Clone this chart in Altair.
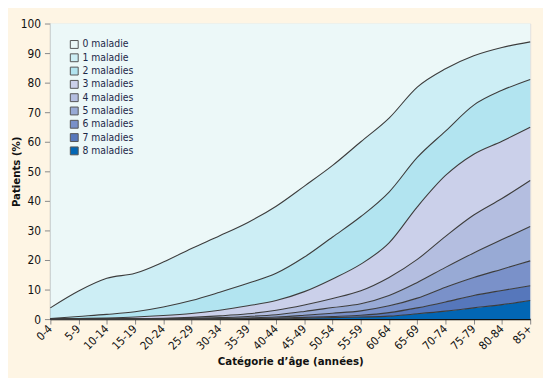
import altair as alt
import pandas as pd

cats = ["0-4", "5-9", "10-14", "15-19", "20-24", "25-29", "30-34", "35-39", "40-44",
        "45-49", "50-54", "55-59", "60-64", "65-69", "70-74", "75-79", "80-84", "85+"]

# cumulative share of patients with at least k diseases (%)
ge1 = [3.8, 9.5, 13.8, 15.5, 19.3, 23.9, 28.2, 32.7, 38.2, 45.0, 52.0, 60.0, 68.0, 78.5, 84.7, 89.1, 91.9, 93.8]
ge2 = [0.2, 0.9, 1.6, 2.5, 4.1, 6.3, 9.1, 12.1, 15.5, 21.0, 27.8, 34.7, 43.0, 54.7, 63.6, 72.4, 77.4, 81.1]
ge3 = [0.0, 0.2, 0.4, 0.7, 1.2, 1.9, 3.0, 4.5, 6.3, 9.3, 13.6, 18.6, 25.8, 38.0, 48.6, 55.8, 60.2, 64.9]
ge4 = [0.0, 0.1, 0.1, 0.2, 0.3, 0.6, 1.1, 1.8, 3.0, 4.8, 7.0, 9.6, 14.1, 20.2, 28.0, 35.2, 40.8, 46.9]
ge5 = [0.0, 0.0, 0.0, 0.1, 0.1, 0.3, 0.5, 0.9, 1.5, 2.6, 3.9, 5.2, 8.0, 12.4, 17.5, 22.4, 26.9, 31.3]
ge6 = [0.0, 0.0, 0.0, 0.0, 0.0, 0.1, 0.2, 0.4, 0.7, 1.3, 2.0, 2.8, 4.5, 7.1, 10.8, 14.1, 16.9, 19.7]
ge7 = [0.0, 0.0, 0.0, 0.0, 0.0, 0.0, 0.1, 0.2, 0.3, 0.6, 0.9, 1.3, 2.2, 3.8, 5.8, 8.0, 9.7, 11.3]
ge8 = [0.0, 0.0, 0.0, 0.0, 0.0, 0.0, 0.0, 0.1, 0.1, 0.3, 0.5, 0.7, 1.0, 1.8, 2.7, 3.8, 4.9, 6.3]

bands = ["0 maladie", "1 maladie", "2 maladies", "3 maladies", "4 maladies",
         "5 maladies", "6 maladies", "7 maladies", "8 maladies"]
colors = ["#ecf8f8", "#cdeef5", "#b2e4f0", "#cbd0ea", "#b4bee0",
          "#98aad5", "#7a91c9", "#5677bb", "#0266b4"]
yticks = [0, 10, 20, 30, 40, 50, 60, 70, 80, 90, 100]

cum = [[100.0] * len(cats), ge1, ge2, ge3, ge4, ge5, ge6, ge7, ge8, [0.0] * len(cats)]

rows = []
for k, name in enumerate(bands):
    for i, c in enumerate(cats):
        rows.append({"cat": c, "band": name, "order": k, "hi": cum[k][i], "lo": cum[k + 1][i]})
area_df = pd.DataFrame(rows)

lrows = []
for k in range(1, 9):
    for i, c in enumerate(cats):
        lrows.append({"cat": c, "k": k, "v": cum[k][i]})
line_df = pd.DataFrame(lrows)

FONT = "DejaVu Sans Condensed, Lato, sans-serif"

xaxis = alt.Axis(title="Catégorie d’âge (années)", labelAngle=315, labelAlign="right",
                 labelBaseline="middle", labelPadding=3, labelFontSize=11.5,
                 labelColor="#111111", tickColor="#888888", tickSize=5,
                 domainColor="#111111", domainWidth=1.5, titleFontSize=11.5,
                 titleFontWeight="bold", titleColor="#111111", titlePadding=4,
                 labelOverlap=False)
yaxis = alt.Axis(title="Patients (%)", values=yticks, labelFontSize=12,
                 labelColor="#111111", tickColor="#888888", tickSize=6,
                 domainColor="#999999", domainWidth=2, grid=False, labelPadding=4,
                 labelOverlap=False, labelFlush=False,
                 titleFontSize=11.5, titleFontWeight="bold", titleColor="#111111",
                 titleX=-34, titleY=150, titleAlign="center", titleBaseline="middle",
                 titleAngle=270)
xscale = alt.Scale(type="point", padding=0)
yscale = alt.Scale(domain=[0, 100], nice=False)

areas = alt.Chart(area_df).mark_area(interpolate="monotone").encode(
    x=alt.X("cat:O", sort=cats, scale=xscale, axis=xaxis),
    y=alt.Y("hi:Q", scale=yscale, axis=yaxis),
    y2="lo:Q",
    color=alt.Color("band:N", scale=alt.Scale(domain=bands, range=colors),
                    legend=alt.Legend(title=None, orient="none", legendX=19, legendY=16,
                                      symbolType="square", symbolSize=64, symbolStrokeColor="#555555",
                                      symbolStrokeWidth=1, labelFontSize=10.5, labelColor="#1c2848",
                                      labelFont=FONT, rowPadding=0.5, labelOffset=3,
                                      symbolOpacity=1)),
    order=alt.Order("order:Q"),
)

lines = alt.Chart(line_df).mark_line(interpolate="monotone", color="#3c3c3c", strokeWidth=1.1).encode(
    x=alt.X("cat:O", sort=cats, scale=xscale, axis=xaxis),
    y=alt.Y("v:Q", scale=yscale, axis=yaxis),
    detail="k:N",
)

chart = alt.layer(areas, lines).properties(
    width=487, height=300,
    autosize=alt.AutoSizeParams(type="none"),
    padding={"left": 43, "top": 13, "right": 13, "bottom": 57},
    background="#fef5e4",
).configure_view(
    stroke="#555555", strokeWidth=1, fill="#ecf8f8"
).configure(font=FONT)

chart.save("out.html", embed_options={"renderer": "svg", "actions": False})
